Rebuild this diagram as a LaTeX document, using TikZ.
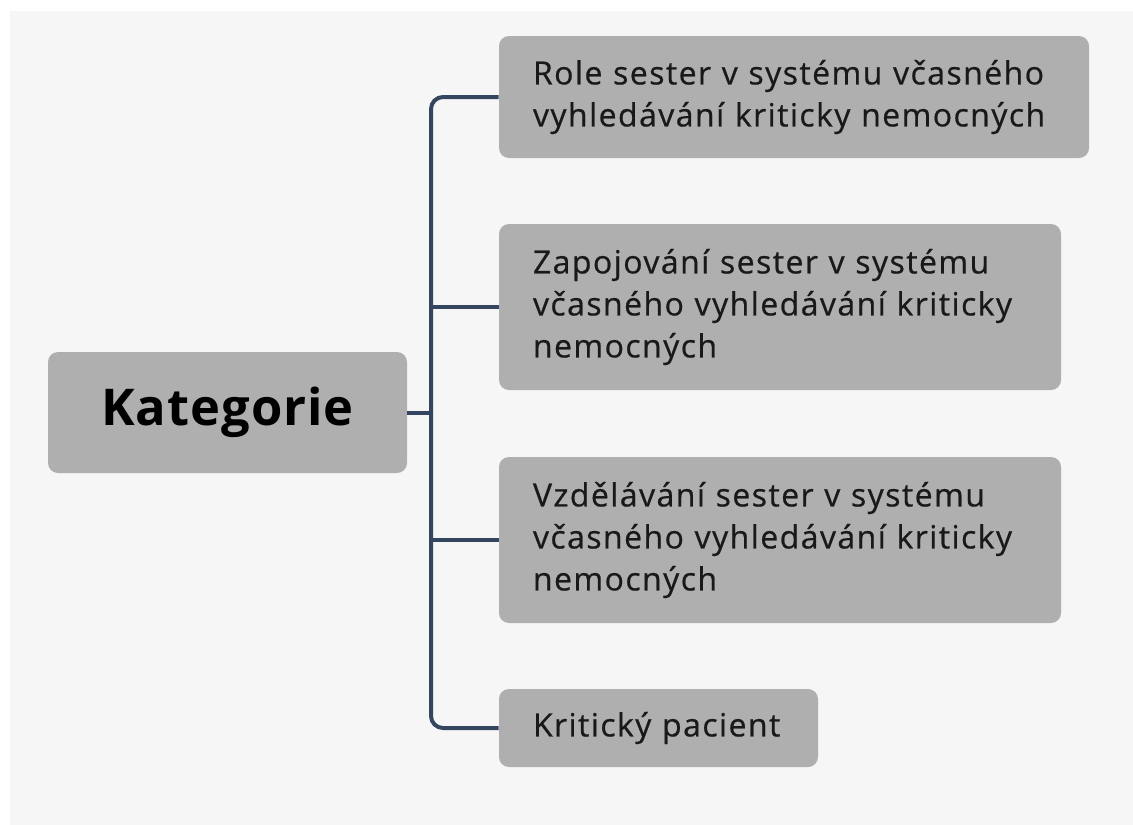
\documentclass[tikz,border=0pt]{standalone}
\usepackage{fontspec}
\setmainfont{Open Sans}
\newfontfamily\topicfont[LetterSpace=4.5, FakeBold=0.6]{Open Sans}
\newfontfamily\rootfont[LetterSpace=2]{Open Sans Bold}
\definecolor{panel}{HTML}{F6F6F6}
\definecolor{boxfill}{HTML}{AFAFAF}
\definecolor{linkcol}{HTML}{34465F}
\tikzset{
  x=0.75pt, y=-0.75pt,
  topic/.style={fill=boxfill, rounded corners=7.5pt, inner sep=0pt,
    align=left, font=\topicfont\fontsize{24}{31.5}\selectfont, text=black!90},
  root/.style={fill=boxfill, rounded corners=7.5pt, inner sep=0pt,
    align=center, font=\rootfont\fontsize{38}{44}\selectfont, text=black},
  link/.style={draw=linkcol, line width=3pt},
}
\begin{document}
\begin{tikzpicture}
  % canvas: white margin on the top and left, light panel elsewhere
  \useasboundingbox (0,0) rectangle (1133,825);
  \fill[white] (0,0) rectangle (1133,825);
  \fill[panel] (10,11) rectangle (1133,825);

  % central node
  \node[root, minimum width=359*0.75pt, minimum height=121*0.75pt] (root) at (227.5,412.5) {Kategorie};

  % category boxes
  \node[topic, minimum width=590*0.75pt, minimum height=122*0.75pt, text width=522*0.75pt] (b1) at (794,97)
    {Role sester v systému včasného\\vyhledávání kriticky nemocných};
  \node[topic, minimum width=562*0.75pt, minimum height=166*0.75pt, text width=494*0.75pt] (b2) at (780,307)
    {Zapojování sester v systému\\včasného vyhledávání kriticky\\nemocných};
  \node[topic, minimum width=562*0.75pt, minimum height=166*0.75pt, text width=494*0.75pt] (b3) at (780,540)
    {Vzdělávání sester v systému\\včasného vyhledávání kriticky\\nemocných};
  \node[topic, minimum width=319*0.75pt, minimum height=78*0.75pt, text width=251*0.75pt] (b4) at (658.5,728)
    {Kritický pacient};

  % tree connectors
  \coordinate (tr) at (431,412.5);
  \draw[link] (root.east) -- (tr);
  \draw[link, rounded corners=9pt] (b1.west) -| (tr) |- (b4.west);
  \draw[link] (tr |- b2.west) -- (b2.west);
  \draw[link] (tr |- b3.west) -- (b3.west);
\end{tikzpicture}
\end{document}
